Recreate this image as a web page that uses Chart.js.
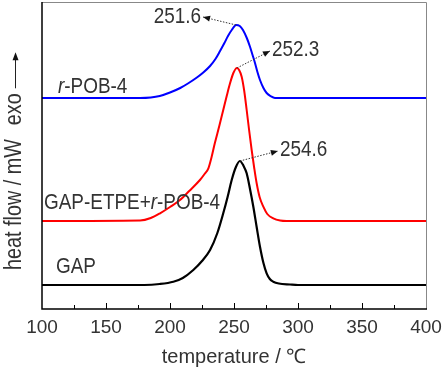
<!DOCTYPE html>
<html>
<head>
<meta charset="utf-8">
<script src="https://cdn.jsdelivr.net/npm/chart.js@4/dist/chart.umd.min.js"></script>
<style>
  body { margin: 0; background: #fff; }
  canvas { display: block; }
</style>
</head>
<body>
<canvas id="dscChart" width="444" height="371"></canvas>
<script>
// DSC curves, heat flow in arbitrary offset units
const gapTemps = [100, 180, 192, 202.6, 210, 218.2, 225, 231.3, 237, 241.6, 245, 248.2, 251.5, 254.6, 257.5, 259.9, 262.5, 265.1, 267.7, 270.3, 273, 275.5, 278, 280.7, 285, 293.8, 300, 400];
const gapFlow = [24, 24, 25, 27.3, 31, 39, 48, 59, 76, 95.7, 112, 129, 142, 148, 143, 135.7, 120, 102.3, 82, 62.3, 46, 35.7, 30, 27.3, 25.5, 24.5, 24, 24];

const blendTemps = [100, 176.6, 185, 192.2, 200, 207.8, 215, 223.4, 227, 230, 232.5, 235, 238.5, 241.6, 244.5, 246.9, 249.5, 252.3, 254, 256, 258, 259.9, 261.8, 263.8, 265.8, 267.7, 270, 272.9, 276, 280.7, 286, 291, 400];
const blendFlow = [88, 88.5, 91, 95.7, 102, 109, 118, 129, 135, 140.7, 152, 165.7, 183, 199, 214, 225.7, 236, 241, 239, 232.3, 218, 199, 179, 159, 141, 125.7, 112, 102.3, 95, 90.7, 88.5, 88, 88];

const pobTemps = [100, 176.6, 185, 192, 200, 208, 214, 221, 226, 231.3, 235.5, 239.1, 242.5, 245.3, 248.5, 251.6, 254.5, 257, 260, 262.5, 264.5, 266.4, 268.3, 270.3, 273, 275.5, 278.5, 282, 400];
const pobFlow = [211, 211, 211.5, 213, 216.5, 221, 225.5, 231.5, 236.5, 243, 250, 258, 266, 273, 279.5, 284, 283, 279, 271, 262.3, 254, 246, 237, 229, 221, 216, 213, 211, 211];

const peakLabels = ["251.6", "252.3", "254.6"];
const peakTemps = [251.6, 252.3, 254.6];
const peakFlow = [284, 241, 148];

const xTicks = [100, 150, 200, 250, 300, 350, 400];

const toPoints = (xs, ys) => xs.map((x, i) => ({ x, y: ys[i] }));

const FONT = "'Liberation Sans', Arial, sans-serif";
const TEXT = "#333";
const LABEL_SIZE = 22;
const SQUEEZE = 0.86; // the original lettering is a narrow face

// draws a run of text pieces (some italic), squeezed horizontally
function drawRich(ctx, parts, x, y, size = LABEL_SIZE, align = "left") {
  ctx.save();
  ctx.textAlign = "left";
  let total = 0;
  parts.forEach(p => {
    ctx.font = `${p.italic ? "italic " : ""}${size}px ${FONT}`;
    total += ctx.measureText(p.t).width;
  });
  ctx.translate(x, y);
  ctx.scale(SQUEEZE, 1);
  let cx = align === "right" ? -total : 0;
  parts.forEach(p => {
    ctx.font = `${p.italic ? "italic " : ""}${size}px ${FONT}`;
    ctx.fillText(p.t, cx, 0);
    cx += ctx.measureText(p.t).width;
  });
  ctx.restore();
  return total * SQUEEZE;
}

function arrow(ctx, x1, y1, x2, y2) {
  ctx.save();
  ctx.strokeStyle = TEXT;
  ctx.fillStyle = "#111";
  ctx.lineWidth = 1;
  ctx.setLineDash([1.5, 1.5]);
  ctx.beginPath();
  ctx.moveTo(x1, y1);
  ctx.lineTo(x2, y2);
  ctx.stroke();
  ctx.setLineDash([]);
  const a = Math.atan2(y2 - y1, x2 - x1);
  ctx.beginPath();
  ctx.moveTo(x2, y2);
  ctx.lineTo(x2 - 7 * Math.cos(a) + 3 * Math.sin(a), y2 - 7 * Math.sin(a) - 3 * Math.cos(a));
  ctx.lineTo(x2 - 7 * Math.cos(a) - 3 * Math.sin(a), y2 - 7 * Math.sin(a) + 3 * Math.cos(a));
  ctx.closePath();
  ctx.fill();
  ctx.restore();
}

const decorations = {
  id: "decorations",
  afterDraw(chart) {
    const { ctx, chartArea: a, scales: { x, y } } = chart;
    ctx.save();

    // frame
    ctx.strokeStyle = "#888";
    ctx.lineWidth = 1;
    ctx.beginPath();
    ctx.moveTo(a.left, a.top + 0.5);
    ctx.lineTo(a.right + 0.5, a.top + 0.5);
    ctx.lineTo(a.right + 0.5, a.bottom);
    ctx.stroke();
    ctx.strokeStyle = "#000";
    ctx.lineWidth = 1.5;
    ctx.beginPath();
    ctx.moveTo(a.left, a.top);
    ctx.lineTo(a.left, a.bottom);
    ctx.lineTo(a.right + 1, a.bottom);
    ctx.stroke();

    // inward ticks
    ctx.lineWidth = 1;
    for (let v = 125; v < 400; v += 25) {
      const px = Math.round(x.getPixelForValue(v)) + 0.5;
      const len = v % 50 === 0 ? 6 : 4;
      ctx.beginPath();
      ctx.moveTo(px, a.bottom);
      ctx.lineTo(px, a.bottom - len);
      ctx.stroke();
    }

    // peak annotations
    ctx.textBaseline = "middle";
    ctx.fillStyle = TEXT;
    const ends = [[-33, -8], [33, -17], [38, -10]];
    peakLabels.forEach((label, i) => {
      const px = x.getPixelForValue(peakTemps[i]);
      const py = y.getPixelForValue(peakFlow[i]);
      const ex = px + ends[i][0], ey = py + ends[i][1];
      arrow(ctx, px, py, ex, ey);
      ctx.fillStyle = TEXT;
      if (i === 0) drawRich(ctx, [{ t: label }], ex - 2, ey, LABEL_SIZE, "right");
      else drawRich(ctx, [{ t: label }], ex + 2, ey - 1);
    });

    // series labels
    drawRich(ctx, [{ t: "r", italic: true }, { t: "-POB-4" }], a.left + 16, y.getPixelForValue(222));
    drawRich(ctx, [{ t: "GAP-ETPE+" }, { t: "r", italic: true }, { t: "-POB-4" }], a.left + 2, y.getPixelForValue(106));
    drawRich(ctx, [{ t: "GAP" }], a.left + 14, y.getPixelForValue(42));

    // y-axis title with arrow
    ctx.translate(15, 270);
    ctx.rotate(-Math.PI / 2);
    const w1 = drawRich(ctx, [{ t: "heat flow / mW" }], 0, 0, 23);
    const exoX = w1 + 14;
    const w2 = drawRich(ctx, [{ t: "exo" }], exoX, 0, 23);
    const lineStart = exoX + w2 + 5;
    ctx.strokeStyle = "#222";
    ctx.lineWidth = 1;
    ctx.beginPath();
    ctx.moveTo(lineStart, 0.5);
    ctx.lineTo(lineStart + 30, 0.5);
    ctx.stroke();
    ctx.fillStyle = "#111";
    ctx.beginPath();
    ctx.moveTo(lineStart + 36, 0.5);
    ctx.lineTo(lineStart + 28, -2.5);
    ctx.lineTo(lineStart + 28, 3.5);
    ctx.closePath();
    ctx.fill();

    ctx.restore();
  }
};

new Chart(document.getElementById("dscChart"), {
  type: "line",
  data: {
    datasets: [
      { label: "r-POB-4", data: toPoints(pobTemps, pobFlow), borderColor: "#0000ff", borderWidth: 2 },
      { label: "GAP-ETPE+r-POB-4", data: toPoints(blendTemps, blendFlow), borderColor: "#ff0000", borderWidth: 2 },
      { label: "GAP", data: toPoints(gapTemps, gapFlow), borderColor: "#000000", borderWidth: 2.2 }
    ]
  },
  options: {
    responsive: false,
    animation: false,
    events: [],
    layout: { padding: { left: 42, right: 18, top: 2, bottom: 0 } },
    elements: {
      point: { radius: 0 },
      line: { cubicInterpolationMode: "monotone", fill: false }
    },
    plugins: { legend: { display: false }, tooltip: { enabled: false } },
    scales: {
      x: {
        type: "linear",
        min: 100,
        max: 400,
        afterBuildTicks: scale => { scale.ticks = xTicks.map(value => ({ value })); },
        afterFit: scale => {
          scale.height = 62;
          scale.paddingLeft = 0;
          scale.paddingRight = 0;
        },
        grid: { display: false, drawTicks: false },
        border: { display: false },
        ticks: { padding: 7, color: TEXT, font: { family: FONT, size: 19 }, maxRotation: 0 },
        title: { display: true, text: "temperature / ℃", color: TEXT, font: { family: FONT, size: 20 }, padding: { top: 5, bottom: 2 } }
      },
      y: { min: 0, max: 307, display: false }
    }
  },
  plugins: [decorations]
});
</script>
</body>
</html>
